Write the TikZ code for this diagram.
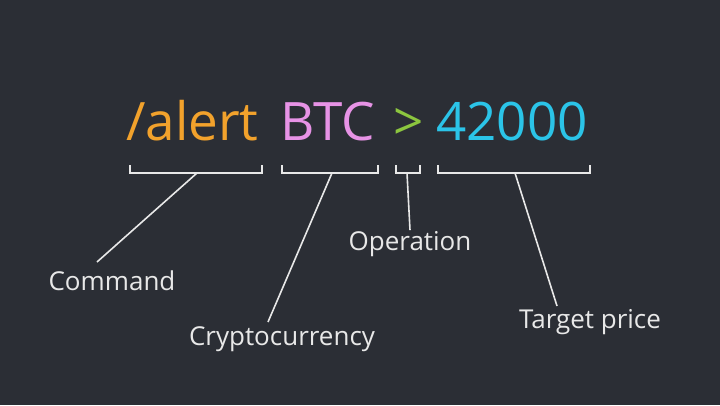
\documentclass[tikz,border=0pt]{standalone}
\usepackage{fontspec}
\setmainfont{Open Sans}
\definecolor{bg}{HTML}{2B2E35}
\definecolor{cor}{HTML}{F2A22C}
\definecolor{cpk}{HTML}{E793E6}
\definecolor{cgr}{HTML}{8CC63F}
\definecolor{ccy}{HTML}{2BC4E8}
\definecolor{cln}{HTML}{E8E8E8}
\begin{document}
\begin{tikzpicture}[x=1pt,y=-1pt,
  big/.style={inner sep=0pt,anchor=base west,font=\fontsize{53}{58}\selectfont},
  lbl/.style={text=cln,inner sep=1pt,font=\fontsize{26}{30}\selectfont},
  ln/.style={draw=cln,line width=1.6pt}]
\fill[bg] (0,0) rectangle (720,405);
\useasboundingbox (0,0) rectangle (720,405);
\node[big,text=cor] (t1) at (126,140) {/alert};
\node[big,text=cpk] (t2) at (280,140) {BTC};
\node[big,text=cgr] (t3) at (393,140) {>};
\node[big,text=ccy] (t4) at (436,140) {42000};
\node[lbl] (l1) at (112,281) {Command};
\node[lbl] (l2) at (282,339) {Cryptocurrency};
\node[lbl] (l3) at (410,244) {Operation};
\node[lbl] (l4) at (590,322) {Target price};
\coordinate (b1) at (197,173);
\coordinate (b2) at (332,173);
\coordinate (b3) at (407,173);
\coordinate (b4) at (515,173);
\draw[ln] (130,165) -- (130,173) -- (262,173) -- (262,165);
\draw[ln] (282,165) -- (282,173) -- (378,173) -- (378,165);
\draw[ln] (396,165) -- (396,173) -- (420,173) -- (420,165);
\draw[ln] (438,165) -- (438,173) -- (590,173) -- (590,165);
\draw[ln] (b1) -- (97,262);
\draw[ln] (b2) -- (268,322);
\draw[ln] (b3) -- (l3.north);
\draw[ln] (b4) -- (557,306);
\end{tikzpicture}
\end{document}
